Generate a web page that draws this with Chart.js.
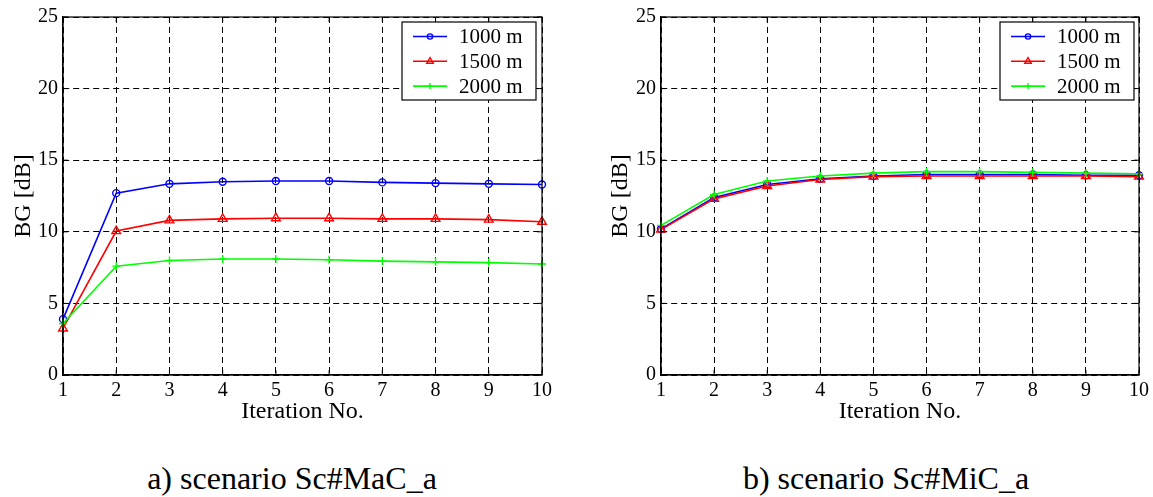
<!DOCTYPE html>
<html>
<head>
<meta charset="utf-8">
<script src="https://cdn.jsdelivr.net/npm/chart.js@4/dist/chart.umd.min.js"></script>
<style>
  body { margin: 0; background: #fff; width: 1153px; height: 497px; position: relative; overflow: hidden; }
  canvas { position: absolute; top: 0; }
  #chartMaC { left: 0; }
  #chartMiC { left: 576px; }
  .caption {
    position: absolute; top: 462px; width: 400px; text-align: center;
    font-family: "Liberation Serif", serif; font-size: 32px; line-height: 32px; color: #000;
    white-space: nowrap;
  }
</style>
</head>
<body>
<canvas id="chartMaC" width="576" height="440"></canvas>
<canvas id="chartMiC" width="577" height="440"></canvas>
<div class="caption" style="left: 92px;">a) scenario Sc#MaC_a</div>
<div class="caption" style="left: 686px;">b) scenario Sc#MiC_a</div>
<script>
// values
const iterations = [1, 2, 3, 4, 5, 6, 7, 8, 9, 10];
const yTicks = [0, 5, 10, 15, 20, 25];
const seriesNames = ["1000 m", "1500 m", "2000 m"];

// a) scenario Sc#MaC_a
const macBlue = [3.9, 12.7, 13.35, 13.5, 13.55, 13.55, 13.45, 13.4, 13.35, 13.3];
const macRed = [3.25, 10.05, 10.8, 10.9, 10.95, 10.95, 10.9, 10.9, 10.85, 10.7];
const macGreen = [3.6, 7.6, 8.0, 8.1, 8.1, 8.05, 7.95, 7.9, 7.85, 7.75];

// b) scenario Sc#MiC_a
const micBlue = [10.2, 12.4, 13.3, 13.7, 13.9, 14.0, 14.0, 14.0, 13.95, 13.95];
const micRed = [10.15, 12.3, 13.2, 13.65, 13.85, 13.9, 13.9, 13.9, 13.9, 13.85];
const micGreen = [10.45, 12.6, 13.55, 13.9, 14.1, 14.2, 14.2, 14.15, 14.1, 14.05];

const serif = "'Liberation Serif', 'Times New Roman', serif";

function makeDatasets(blue, red, green) {
    return [
        {
            label: seriesNames[0], data: blue, borderColor: "#0000ff",
            pointStyle: "circle", pointRadius: 3.5, order: 3
        },
        {
            label: seriesNames[1], data: red, borderColor: "#ff0000",
            pointStyle: "triangle", pointRadius: 5, order: 2
        },
        {
            label: seriesNames[2], data: green, borderColor: "#00ff00",
            pointStyle: "cross", pointRadius: 4, order: 1
        }
    ].map(d => Object.assign(d, {
        borderWidth: 1.6,
        pointBorderColor: d.borderColor,
        pointBackgroundColor: "rgba(0,0,0,0)",
        pointBorderWidth: 1.4,
        tension: 0,
        fill: false
    }));
}

// solid box round the plot, inward ticks, and the legend in the upper right corner
const boxAndLegend = {
    id: "boxAndLegend",
    afterDraw(chart, args, opts) {
        const ctx = chart.ctx;
        const a = chart.chartArea;
        const xs = chart.scales.x, ys = chart.scales.y;
        ctx.save();
        ctx.strokeStyle = "#000";
        ctx.lineWidth = 1.2;
        ctx.setLineDash([]);
        ctx.strokeRect(a.left, a.top, a.right - a.left, a.bottom - a.top);

        const tl = 5;
        ctx.lineWidth = 1;
        ctx.beginPath();
        xs.ticks.forEach((t, i) => {
            const px = xs.getPixelForTick(i);
            ctx.moveTo(px, a.bottom); ctx.lineTo(px, a.bottom - tl);
            ctx.moveTo(px, a.top); ctx.lineTo(px, a.top + tl);
        });
        ys.ticks.forEach(t => {
            const py = ys.getPixelForValue(t.value);
            ctx.moveTo(a.left, py); ctx.lineTo(a.left + tl, py);
            ctx.moveTo(a.right, py); ctx.lineTo(a.right - tl, py);
        });
        ctx.stroke();

        const w = 134, h = 78;
        const bx = a.right - opts.right - w;
        const by = a.top + 5;
        ctx.fillStyle = "#fff";
        ctx.fillRect(bx, by, w, h);
        ctx.lineWidth = 1.2;
        ctx.strokeRect(bx, by, w, h);

        const ordered = chart.data.datasets;
        ctx.font = "21px " + serif;
        ctx.textBaseline = "middle";
        ctx.textAlign = "left";
        for (let i = 0; i < ordered.length; i++) {
            const ds = ordered[i];
            const y = by + 14.5 + i * 24.8;
            ctx.strokeStyle = ds.borderColor;
            ctx.lineWidth = 1.6;
            ctx.beginPath();
            ctx.moveTo(bx + 11, y);
            ctx.lineTo(bx + 45, y);
            ctx.stroke();
            ctx.fillStyle = "rgba(0,0,0,0)";
            ctx.lineWidth = 1.4;
            Chart.helpers.drawPoint(ctx, {
                pointStyle: ds.pointStyle,
                radius: ds.pointRadius * 0.75,
                rotation: 0,
                borderWidth: 1.4
            }, bx + 28, y);
            ctx.fillStyle = "#000";
            ctx.fillText(ds.label, bx + 57, y + 1);
        }
        ctx.restore();
    }
};

function makeChart(id, datasets, layout) {
    return new Chart(id, {
        type: "line",
        data: { labels: iterations, datasets: datasets },
        options: {
            responsive: false,
            animation: false,
            devicePixelRatio: 1,
            layout: {
                padding: { left: layout.padLeft, right: layout.padRight, top: 16, bottom: 13.6 }
            },
            plugins: {
                legend: { display: false },
                tooltip: { enabled: false },
                boxAndLegend: { right: layout.legendRight }
            },
            scales: {
                x: {
                    type: "category",
                    offset: false,
                    grid: { color: "#000", lineWidth: 1, drawTicks: false },
                    border: { display: true, color: "#000", width: 1.2, dash: [6, 4] },
                    ticks: {
                        color: "#000", padding: 4, maxRotation: 0, autoSkip: false,
                        font: { family: serif, size: 20 }
                    },
                    title: {
                        display: true, text: "Iteration No.", color: "#000",
                        padding: 0, font: { family: serif, size: 24 }
                    },
                    afterFit(scale) { scale.height = 51.4; }
                },
                y: {
                    min: 0,
                    max: 25,
                    afterBuildTicks(scale) { scale.ticks = yTicks.map(v => ({ value: v })); },
                    grid: { color: "#000", lineWidth: 1, drawTicks: false },
                    border: { display: true, color: "#000", width: 1.2, dash: [6, 4] },
                    ticks: {
                        color: "#000", padding: 5,
                        font: { family: serif, size: 20 }
                    },
                    title: {
                        display: true, text: "BG [dB]", color: "#000",
                        padding: 0, font: { family: serif, size: 24 }
                    },
                    afterFit(scale) { scale.width = layout.yWidth; }
                }
            }
        },
        plugins: [boxAndLegend]
    });
}

makeChart("chartMaC", makeDatasets(macBlue, macRed, macGreen),
    { padLeft: 9, padRight: 34, yWidth: 54, legendRight: 6 });
makeChart("chartMiC", makeDatasets(micBlue, micRed, micGreen),
    { padLeft: 30, padRight: 14, yWidth: 55, legendRight: 5 });
</script>
</body>
</html>
